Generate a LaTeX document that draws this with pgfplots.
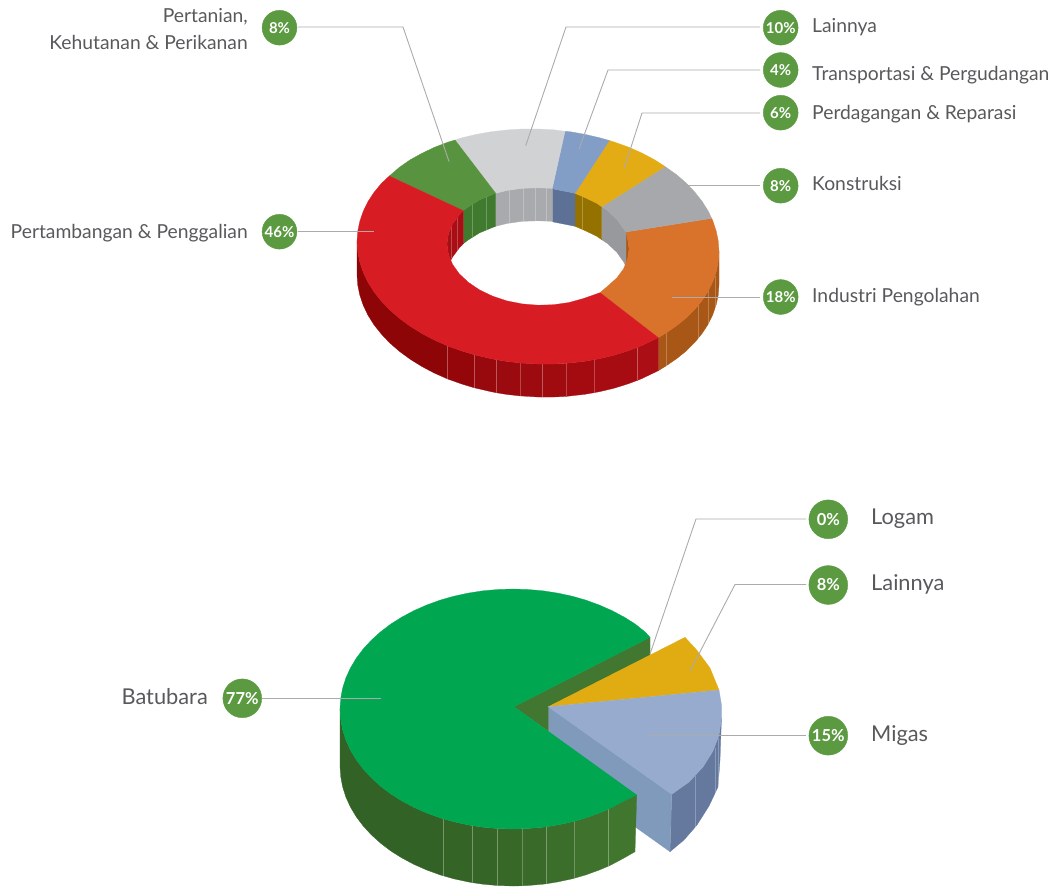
\documentclass[border=0pt]{standalone}
\usepackage{pgfplots}
\usepackage{fontspec}
\setmainfont{Lato}
\pgfplotsset{compat=1.18}
\definecolor{txt}{HTML}{58595B}
\definecolor{lead}{HTML}{ABABAB}
\definecolor{badge}{HTML}{5B9A41}
\definecolor{cR}{HTML}{D71C24}
\definecolor{cO}{HTML}{D9722B}
\definecolor{cG}{HTML}{A7A8AB}
\definecolor{cY}{HTML}{E3AC15}
\definecolor{cB}{HTML}{829DC6}
\definecolor{cL}{HTML}{D1D2D4}
\definecolor{cV}{HTML}{58943F}
\definecolor{wO}{HTML}{A85716}
\definecolor{wG}{HTML}{98999C}
\definecolor{wY}{HTML}{957200}
\definecolor{wB}{HTML}{5D7096}
\definecolor{wL}{HTML}{A8AAAD}
\definecolor{wV}{HTML}{3F7A2F}
\definecolor{wR}{HTML}{A80E14}
\definecolor{pG}{HTML}{00A650}
\definecolor{pY}{HTML}{E1AC11}
\definecolor{pB}{HTML}{96ABCD}
\definecolor{pF}{HTML}{809ABC}
\definecolor{pW}{HTML}{65799F}
\definecolor{pD}{HTML}{417731}
\definecolor{ra}{HTML}{8E0508}
\definecolor{rb}{HTML}{940609}
\definecolor{rc}{HTML}{97090C}
\definecolor{rd}{HTML}{9A0A0E}
\definecolor{re}{HTML}{9D0A0F}
\definecolor{rf}{HTML}{A00B10}
\definecolor{rg}{HTML}{A30B10}
\definecolor{rh}{HTML}{A60C12}
\definecolor{ri}{HTML}{AB0E14}
\definecolor{ga}{HTML}{336226}
\definecolor{gb}{HTML}{346426}
\definecolor{gc}{HTML}{366627}
\definecolor{gd}{HTML}{386828}
\definecolor{ge}{HTML}{3A6A29}
\definecolor{gf}{HTML}{3C6E2B}
\definecolor{gg}{HTML}{3E722D}
\definecolor{gh}{HTML}{41762F}
\pgfplotsset{
  face/.style={fill=#1,draw=#1,line width=0.25pt,forget plot},
  facet/.style={draw=white,draw opacity=0.25,line width=0.5pt,forget plot},
  leader/.style={draw=lead,line width=0.9pt,forget plot},
  dot/.style={only marks,mark=*,mark size=#1,mark options={fill=badge,draw=badge},forget plot}
}
\newcommand{\lab}[3]{\node[anchor=base #1,text=txt,font=\fontsize{19.3}{21}\selectfont,inner sep=0pt] at (axis cs:#2) {#3};}
\newcommand{\labb}[3]{\node[anchor=base #1,text=txt,font=\fontsize{21.8}{24}\selectfont,inner sep=0pt] at (axis cs:#2) {#3};}
\newcommand{\pct}[2]{\node[text=white,font=\fontsize{15}{17}\selectfont\bfseries,inner sep=0pt] at (axis cs:#1) {#2};}
\newcommand{\pctb}[2]{\node[text=white,font=\fontsize{16.5}{18}\selectfont\bfseries,inner sep=0pt] at (axis cs:#1) {#2};}
\begin{document}
\begin{tikzpicture}
\path[use as bounding box] (0,0) rectangle (1054pt,886pt);
\begin{axis}[at={(0,0)},anchor=south west,scale only axis,width=1054pt,height=886pt,xmin=0,xmax=1054,ymin=0,ymax=886,y dir=reverse,hide axis,clip mode=individual]
% ---------- donut: outer walls
\addplot[face=wO] coordinates {(658.3,337.7)(666,333)(676.6,325.7)(686.3,317.9)(694.7,309.5)(702,300.6)(708.1,291.3)(712.8,281.6)(716.2,271.7)(718.3,261.6)(719,251.4)(719,284.4)(718.3,294.6)(716.2,304.7)(712.8,314.6)(708.1,324.3)(702,333.6)(694.7,342.5)(686.3,350.9)(676.6,358.7)(666,366)(658.3,370.7)} --cycle;
\addplot[face=ra] coordinates {(357,241.6)(357.7,251.8)(359.8,262.1)(363.2,272.2)(367.9,282.1)(374,291.8)(381.3,301)(389.7,309.9)(399.4,318.3)(410,326.1)(421.7,333.4)(434.2,340)(447.5,345.9)(447.5,378.9)(434.2,373)(421.7,366.4)(410,359.1)(399.4,351.3)(389.7,342.9)(381.3,334)(374,324.8)(367.9,315.1)(363.2,305.2)(359.8,295.1)(357.7,284.8)(357,274.6)} --cycle;
\addplot[face=rb] coordinates {(447.5,345.9)(461.5,350.9)(474.3,354.8)(474.3,387.8)(461.5,383.9)(447.5,378.9)} --cycle;
\addplot[face=rc] coordinates {(474.3,354.8)(491.2,358.7)(496.7,359.8)(496.7,392.8)(491.2,391.7)(474.3,387.8)} --cycle;
\addplot[face=rd] coordinates {(496.7,359.8)(506.6,361.4)(520,362.9)(520,395.9)(506.6,394.4)(496.7,392.8)} --cycle;
\addplot[face=re] coordinates {(520,362.9)(538,364)(542.3,364.1)(542.3,397.1)(538,397)(520,395.9)} --cycle;
\addplot[face=rf] coordinates {(542.3,364.1)(553.8,364)(566,363.4)(566,396.4)(553.8,397)(542.3,397.1)} --cycle;
\addplot[face=rg] coordinates {(566,363.4)(584.8,361.3)(594,359.7)(594,392.7)(584.8,394.3)(566,396.4)} --cycle;
\addplot[face=rh] coordinates {(594,359.7)(599.9,358.6)(614.5,355.1)(628.5,350.7)(637.3,347.4)(637.3,380.4)(628.5,383.7)(614.5,388.1)(599.9,391.6)(594,392.7)} --cycle;
\addplot[face=ri] coordinates {(637.3,347.4)(641.8,345.6)(654.3,339.6)(658.3,337.7)(658.3,370.7)(654.3,372.6)(641.8,378.6)(637.3,380.4)} --cycle;
\addplot[facet] coordinates {(447.5,346)(447.5,379)};
\addplot[facet] coordinates {(474.3,355)(474.3,388)};
\addplot[facet] coordinates {(496.7,360)(496.7,393)};
\addplot[facet] coordinates {(520,363)(520,396)};
\addplot[facet] coordinates {(542.3,364)(542.3,397)};
\addplot[facet] coordinates {(566,363.4)(566,396)};
\addplot[facet] coordinates {(594,360)(594,393)};
\addplot[facet] coordinates {(637.3,347)(637.3,380)};
\addplot[facet] coordinates {(666.7,332.6)(666.7,365.6)};
\addplot[facet] coordinates {(698.3,305.3)(698.3,338.3)};
\addplot[facet] coordinates {(708.3,290.9)(708.3,323.9)};
\addplot[facet] coordinates {(715,275.8)(715,308.8)};
% ---------- donut: inner walls
\addplot[face=wO] coordinates {(626,232)(627.6,238.7)(629,249)(627.6,259.1)(625.4,265.4)} --cycle;
\addplot[face=wG] coordinates {(601.7,206.7)(607.7,210.7)(616.8,219.25)(623.5,228.7)(626,232)(626,265)(625.4,265.4)(623.5,261.7)(616.8,252.25)(607.7,243.7)(601.7,239.7)} --cycle;
\addplot[face=wY] coordinates {(575,193.3)(583.5,196.9)(596.5,203.1)(601.7,206.7)(601.7,239.7)(596.5,236.1)(583.5,229.9)(575,226.3)} --cycle;
\addplot[face=wB] coordinates {(552.3,188.3)(553.8,189.1)(569.1,192.1)(575,193.3)(575,226.3)(569.1,225.1)(553.8,222.1)(552.3,221.3)} --cycle;
\addplot[face=wL] coordinates {(495.7,193.3)(506.9,190.5)(522.2,188.3)(538,187.8)(552.3,188.3)(552.3,221.3)(538,220.8)(522.2,221.3)(506.9,223.5)(495.7,226.3)} --cycle;
\addplot[face=wV] coordinates {(463.3,210.7)(468.3,206.9)(479.5,199.9)(492.5,194.5)(495.7,193.3)(495.7,226.3)(492.5,227.5)(479.5,232.9)(468.3,239.9)(463.3,243.7)} --cycle;
\addplot[face=wR] coordinates {(463.3,210.7)(459.2,215.05)(452.5,224.1)(448.4,233.9)(447,244)(448.4,254.3)(450.6,260.6)(452.5,257.1)(459.2,248.05)(463.3,243.7)} --cycle;
\addplot[facet] coordinates {(509,190)(509,223)};
\addplot[facet] coordinates {(523,188)(523,221)};
\addplot[facet] coordinates {(535,188)(535,221)};
\addplot[facet] coordinates {(546,188)(546,221)};
\addplot[facet] coordinates {(472,204)(472,237)};
\addplot[facet] coordinates {(486.7,196)(486.7,230)};
\addplot[facet] coordinates {(582,196)(582,229)};
\addplot[facet] coordinates {(457,218)(457,251)};
\addplot[facet] coordinates {(451.7,226)(451.7,258)};
% ---------- donut: top ring
\addplot[face=cO] coordinates {(658.3,337.7)(666,333)(676.6,325.7)(686.3,317.9)(694.7,309.5)(702,300.6)(708.1,291.3)(712.8,281.6)(716.2,271.7)(718.3,261.6)(719,251.4)(718.3,241.2)(716.2,230.9)(712.8,220.8)(711.7,218.3)(626,232)(627.6,238.7)(629,249)(627.6,259.1)(623.5,268.9)(616.8,277.95)(607.7,286.1)(600,292.7)} --cycle;
\addplot[face=cG] coordinates {(711.7,218.3)(708.1,210.9)(702,201.2)(694.7,192)(686.3,183.1)(676.6,174.7)(665,166.5)(601.7,206.7)(607.7,210.7)(616.8,219.25)(623.5,228.7)(626,232)} --cycle;
\addplot[face=cY] coordinates {(665,166.5)(654.3,159.6)(641.8,153)(628.5,147.1)(614.5,142.1)(609.3,140.5)(575,193.3)(583.5,196.9)(596.5,203.1)(601.7,206.7)} --cycle;
\addplot[face=cB] coordinates {(609.3,140.5)(599.9,137.8)(584.8,134.3)(569.4,131.6)(565,131.3)(552.3,188.3)(553.8,189.1)(569.1,192.1)(575,193.3)} --cycle;
\addplot[face=cL] coordinates {(565,131.3)(553.8,129.8)(538,129)(522.2,129)(506.6,130)(491.2,131.7)(476.1,134.4)(461.5,137.9)(455,140)(495.7,193.3)(506.9,190.5)(522.2,188.3)(538,187.8)(552.3,188.3)} --cycle;
\addplot[face=cV] coordinates {(455,140)(447.5,142.3)(434.2,147.4)(421.7,153.4)(410,159.9)(399.4,167.3)(389.3,176)(463.3,210.7)(468.3,206.9)(479.5,199.9)(492.5,194.5)(495.7,193.3)} --cycle;
\addplot[face=cR] coordinates {(389.3,176)(381.3,183.5)(374,192.4)(367.9,201.7)(363.2,211.4)(359.8,221.3)(357.7,231.4)(357,241.6)(357.7,251.8)(359.8,262.1)(363.2,272.2)(367.9,282.1)(374,291.8)(381.3,301)(389.7,309.9)(399.4,318.3)(410,326.1)(421.7,333.4)(434.2,340)(447.5,345.9)(461.5,350.9)(476.1,355.2)(491.2,358.7)(506.6,361.4)(522.2,363.2)(538,364)(553.8,364)(569.4,363)(584.8,361.3)(599.9,358.6)(614.5,355.1)(628.5,350.7)(641.8,345.6)(654.3,339.6)(658.3,337.7)(600,292.7)(583.5,298.5)(569.1,302.5)(553.8,304.7)(538,305.2)(522.2,303.9)(506.9,300.9)(492.5,296.1)(479.5,289.9)(468.3,282.3)(459.2,273.75)(452.5,264.3)(448.4,254.3)(447,244)(448.4,233.9)(452.5,224.1)(459.2,215.05)(463.3,210.7)} --cycle;
% donut leaders
\addplot[leader] coordinates {(298,27)(403,27)(449,161.5)};
\addplot[leader] coordinates {(760,27)(566,27)(525.7,145.7)};
\addplot[leader] coordinates {(760,70)(608,70)(579,149)};
\addplot[leader] coordinates {(760,113)(642,113)(624.3,168)};
\addplot[leader] coordinates {(760,185.5)(688,185.5)};
\addplot[leader] coordinates {(760,297)(672,297)};
\addplot[leader] coordinates {(298,231.7)(374,231.7)};
% donut badges
\addplot[dot=17.4pt] coordinates {(279.5,27.7)(279.5,231.7)(780.7,27.7)(780.7,70)(780.7,112.7)(780.7,185.7)(780.7,297)};
\pct{279.5,27.7}{8\%}
\pct{279.5,231.7}{46\%}
\pct{780.7,27.7}{10\%}
\pct{780.7,70}{4\%}
\pct{780.7,112.7}{6\%}
\pct{780.7,185.7}{8\%}
\pct{780.7,297}{18\%}
\lab{east}{248,22.7}{Pertanian,}
\lab{east}{248,49}{Kehutanan \& Perikanan}
\lab{east}{248,238.3}{Pertambangan \& Penggalian}
\lab{west}{812,32.3}{Lainnya}
\lab{west}{812,80}{Transportasi \& Pergudangan}
\lab{west}{812,119.3}{Perdagangan \& Reparasi}
\lab{west}{812,190}{Konstruksi}
\lab{west}{812,302}{Industri Pengolahan}
% ---------- pie: detached slice faces
\addplot[face=pF] coordinates {(548.3,706.7)(671.7,794.3)(670,851.7)(548.3,765)} --cycle;
\addplot[face=pW] coordinates {(671.7,794.3)(689,782)(703,767)(713,751)(719,735)(721.5,718)(720,760)(718,787)(709,806)(697,825)(684,840)(670,851.7)} --cycle;
\addplot[facet] coordinates {(695,776)(695,830)};
\addplot[facet] coordinates {(715,748)(715,795)};
\addplot[facet] coordinates {(718,738)(718,787)};
\addplot[facet] coordinates {(671.7,795)(670,851)};
\addplot[face=pD] coordinates {(514,706.7)(650,637.3)(650,656)(548.3,706.7)(548.3,731.2)} --cycle;
% green wall
\addplot[face=ga] coordinates {(340,709)(340.7,719.5)(342.6,729.8)(345.9,740.1)(350.4,750)(356.2,759.7)(363.2,769)(371.3,777.8)(380.5,786.1)(390.7,793.9)(401.8,800.9)(413.8,807.3)(426.5,812.9)(439.9,817.8)(443.3,818.8)(443.3,875.8)(439.9,874.8)(426.5,869.9)(413.8,864.3)(401.8,857.9)(390.7,850.9)(380.5,843.1)(371.3,834.8)(363.2,826)(356.2,816.7)(350.4,807)(345.9,797.1)(342.6,786.8)(340.7,776.5)(340,766)} --cycle;
\addplot[face=gb] coordinates {(443.3,818.8)(453.8,821.8)(468.2,824.9)(472.7,825.7)(472.7,882.7)(468.2,881.9)(453.8,878.8)(443.3,875.8)} --cycle;
\addplot[face=gc] coordinates {(472.7,825.7)(483,827.2)(497.3,828.5)(497.3,885.5)(483,884.2)(472.7,882.7)} --cycle;
\addplot[face=gd] coordinates {(497.3,828.5)(513,829)(522,828.8)(522,885.8)(513,886)(497.3,885.5)} --cycle;
\addplot[face=ge] coordinates {(522,828.8)(528.1,828.5)(543,827.2)(546.7,826.7)(546.7,883.7)(543,884.2)(528.1,885.5)(522,885.8)} --cycle;
\addplot[face=gf] coordinates {(546.7,826.7)(557.8,824.9)(572.2,821.8)(574,821.3)(574,878.3)(572.2,878.8)(557.8,881.9)(546.7,883.7)} --cycle;
\addplot[face=gg] coordinates {(574,821.3)(586.1,817.8)(599.5,812.9)(608.7,809)(608.7,866)(599.5,869.9)(586.1,874.8)(574,878.3)} --cycle;
\addplot[face=gh] coordinates {(608.7,809)(612.2,807.3)(624.2,800.9)(636.7,795)(635,851.7)(624.2,857.9)(612.2,864.3)(608.7,866)} --cycle;
\addplot[facet] coordinates {(443.3,819)(443.3,876)};
\addplot[facet] coordinates {(472.7,826)(472.7,883)};
\addplot[facet] coordinates {(497.3,829)(497.3,886)};
\addplot[facet] coordinates {(522,829)(522,886)};
\addplot[facet] coordinates {(546.7,827)(546.7,884)};
\addplot[facet] coordinates {(574,821)(574,878)};
\addplot[facet] coordinates {(608.7,809)(608.7,866)};
% pie tops
\addplot[face=pG] coordinates {(514,706.7)(650,637.3)(645.5,632.3)(635.3,624.1)(624.2,617.1)(612.2,610.7)(599.5,605.1)(586.1,600.2)(572.2,596.2)(557.8,593.1)(543,590.8)(528.1,589.5)(513,589)(497.9,589.5)(483,590.8)(468.2,593.1)(453.8,596.2)(439.9,600.2)(426.5,605.1)(413.8,610.7)(401.8,617.1)(390.7,624.1)(380.5,631.9)(371.3,640.2)(363.2,649)(356.2,658.3)(350.4,668)(345.9,677.9)(342.6,688.2)(340.7,698.5)(340,709)(340.7,719.5)(342.6,729.8)(345.9,740.1)(350.4,750)(356.2,759.7)(363.2,769)(371.3,777.8)(380.5,786.1)(390.7,793.9)(401.8,800.9)(413.8,807.3)(426.5,812.9)(439.9,817.8)(453.8,821.8)(468.2,824.9)(483,827.2)(497.9,828.5)(513,829)(528.1,828.5)(543,827.2)(557.8,824.9)(572.2,821.8)(586.1,817.8)(599.5,812.9)(612.2,807.3)(624.2,800.9)(636.7,795)} --cycle;
\addplot[face=pY] coordinates {(548.3,706.7)(685,637.3)(696.7,650)(710,668)(719,690)} --cycle;
\addplot[face=pB] coordinates {(548.3,706.7)(719,690)(721.5,705)(721.5,718)(719,735)(713,751)(703,767)(689,782)(671.7,794.3)} --cycle;
% pie leaders
\addplot[leader] coordinates {(806,519)(696,519)(650,654)};
\addplot[leader] coordinates {(806,584.5)(735,584.5)(690,671)};
\addplot[leader] coordinates {(806,735)(646.7,735)};
\addplot[leader] coordinates {(262,698)(380.7,698)};
\addplot[dot=19.4pt] coordinates {(242.3,698.3)(828.3,519.3)(828.3,585)(828.3,735.7)};
\pctb{242.3,698.3}{77\%}
\pctb{828.3,519.3}{0\%}
\pctb{828.3,585}{8\%}
\pctb{828.3,735.7}{15\%}
\labb{east}{208,704}{Batubara}
\labb{west}{871,524}{Logam}
\labb{west}{871,590}{Lainnya}
\labb{west}{871,741.7}{Migas}
\end{axis}
\end{tikzpicture}
\end{document}
